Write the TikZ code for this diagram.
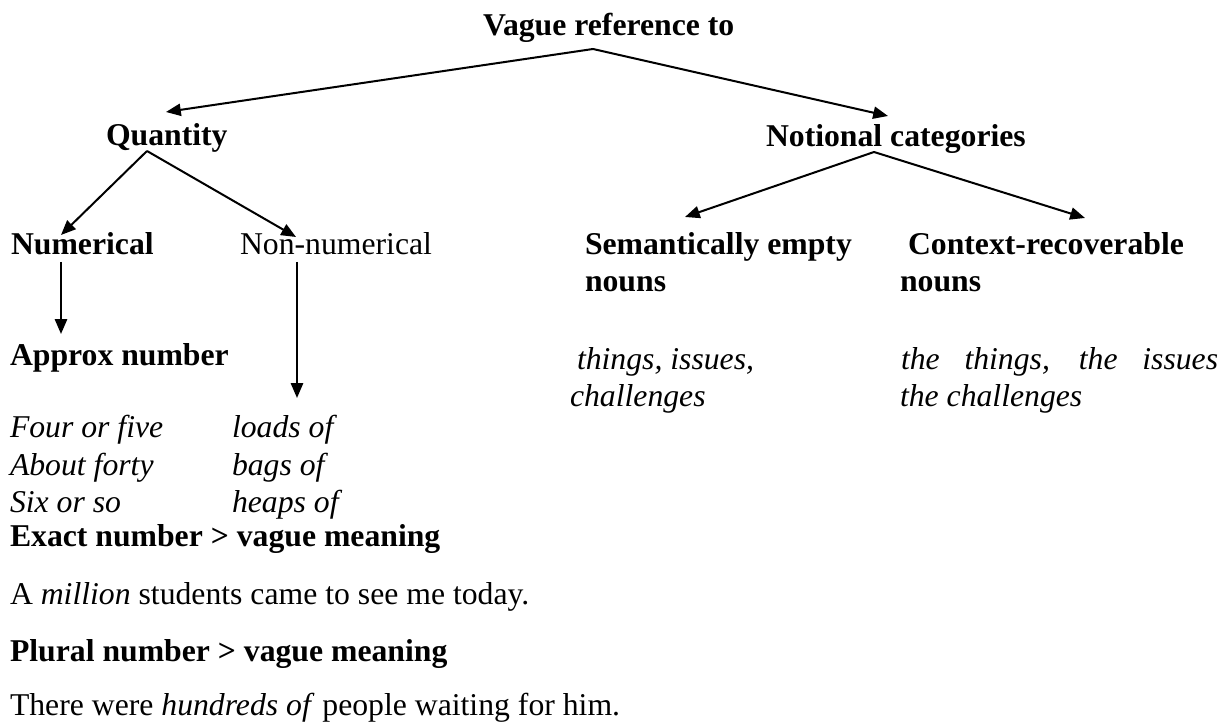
\documentclass[tikz,border=0pt]{standalone}
\usepackage{fontspec}
\setmainfont{Liberation Serif}
\usetikzlibrary{arrows.meta}
\begin{document}
\begin{tikzpicture}[x=0.3784pt,y=-0.3784pt,
  txt/.style={anchor=base west,inner sep=0pt,outer sep=0pt,font=\fontsize{12}{14}\selectfont},
  hd/.style={txt,font=\fontsize{12}{14}\selectfont\bfseries},
  ex/.style={txt,font=\fontsize{12}{14}\selectfont\itshape},
  arr/.style={line width=0.76pt,-{Triangle[length=5.6pt,width=4.6pt]}}]
\useasboundingbox (0,0) rectangle (1228,723);

% headings of the tree
\node[hd] (vague)  at (483,36)  {Vague reference to};
\node[hd] (quant)  at (106,146) {Quantity};
\node[hd] (notion) at (766,147) {Notional categories};
\node[hd] (numer)  at (11,255)  {Numerical};
\node[txt] (nonnum) at (240,255) {Non-numerical};
\node[hd] (sem)    at (585,255) {Semantically empty};
\node[hd] (semb)   at (585,292) {nouns};
\node[hd] (ctx)    at (908,255) {Context-recoverable};
\node[hd] (ctxb)   at (900,292) {nouns};
\node[hd] (approx) at (10,366)  {Approx number};

% examples
\node[ex] (sem1) at (577,370) {things, issues,};
\node[ex] (sem2) at (570,407) {challenges};
\node[ex] (ctx1) at (901,370) {\makebox[120pt][s]{the things, the issues}};
\node[ex] (ctx2) at (900,407) {the challenges};
\node[ex] (l1) at (10,438) {Four or five};
\node[ex] (l2) at (10,475) {About forty};
\node[ex] (l3) at (10,512) {Six or so};
\node[ex] (r1) at (232,438) {loads of};
\node[ex] (r2) at (232,475) {bags of};
\node[ex] (r3) at (232,512) {heaps of};

% notes below the tree
\node[hd] (exact)  at (10,546) {Exact number > vague meaning};
\node[txt] (mil)   at (10,604) {A \textit{million} students came to see me today.};
\node[hd] (plural) at (10,661) {Plural number > vague meaning};
\node[txt] (there) at (10,715) {There were \textit{hundreds of} people waiting for him.};

% branch points and arrow ends
\coordinate (vague-fork)  at (593,49);
\coordinate (quant-in)    at (166,112);
\coordinate (notion-in)   at (888,116);
\coordinate (quant-fork)  at (147,151);
\coordinate (numer-in)    at (61,235);
\coordinate (nonnum-in)   at (296,237);
\coordinate (notion-fork) at (874,152);
\coordinate (sem-in)      at (685,217);
\coordinate (ctx-in)      at (1085,218);
\coordinate (numer-out)   at (61,262);
\coordinate (approx-in)   at (61,334);
\coordinate (nonnum-out)  at (297,262);
\coordinate (r1-in)       at (297,398);

\draw[arr] (vague-fork) -- (quant-in);
\draw[arr] (vague-fork) -- (notion-in);
\draw[arr] (quant-fork) -- (numer-in);
\draw[arr] (quant-fork) -- (nonnum-in);
\draw[arr] (notion-fork) -- (sem-in);
\draw[arr] (notion-fork) -- (ctx-in);
\draw[arr] (numer-out) -- (approx-in);
\draw[arr] (nonnum-out) -- (r1-in);
\end{tikzpicture}
\end{document}
